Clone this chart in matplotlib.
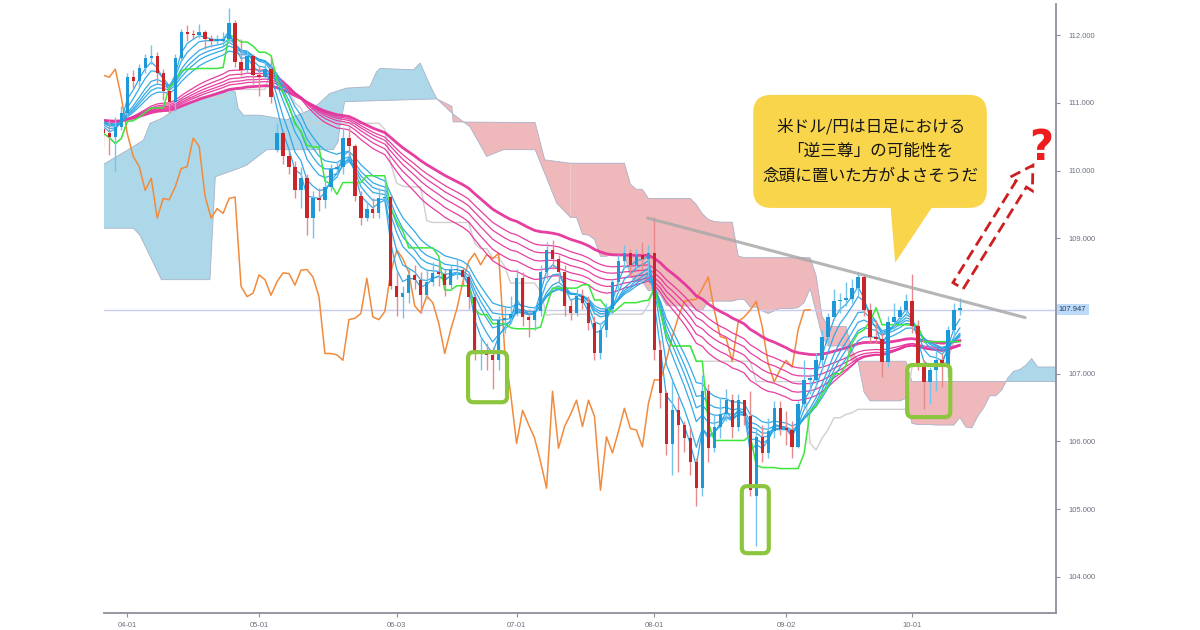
import numpy as np
import pandas as pd
import matplotlib
matplotlib.use("Agg")
import matplotlib.pyplot as plt
from matplotlib.patches import FancyBboxPatch, Polygon
import matplotlib.transforms as mtransforms

plt.rcParams['font.family'] = ['Noto Sans CJK JP', 'DejaVu Sans']

# ---------------- data (USD/JPY daily) ----------------
dates = pd.bdate_range('2019-03-26', '2019-10-11')

opens = [
    110.62, 110.55, 110.50, 110.65, 110.85, 111.38, 111.33, 111.52, 111.66, 111.70,
    111.44, 111.18, 111.02, 111.66, 112.05, 112.02, 112.00, 112.05, 111.95, 111.92,
    111.92, 111.95, 112.18, 111.60, 111.48, 111.70, 111.41, 111.38, 111.50, 110.30,
    110.55, 110.21, 110.06, 109.71, 109.89, 109.30, 109.59, 109.57, 109.76, 110.03,
    110.06, 110.48, 110.36, 109.62, 109.30, 109.44, 109.37, 109.59, 109.61, 108.29,
    108.14, 108.19, 108.46, 108.39, 108.16, 108.36, 108.49, 108.48, 108.31, 108.53,
    108.54, 108.43, 108.14, 107.30, 107.30, 107.28, 107.20, 107.80, 107.82, 107.89,
    108.41, 107.84, 107.80, 107.92, 108.50, 108.83, 108.70, 108.50, 108.00, 107.90,
    108.15, 108.05, 107.75, 107.30, 107.65, 107.95, 108.35, 108.66, 108.78, 108.61,
    108.76, 108.70, 108.78, 107.35, 106.71, 105.97, 106.46, 106.25, 106.05, 105.70,
    105.31, 106.74, 105.90, 106.22, 106.40, 106.61, 106.22, 106.61, 106.37, 105.20,
    106.07, 105.83, 106.15, 106.49, 106.19, 106.17, 105.92, 106.56, 106.91, 106.91,
    107.20, 107.55, 107.84, 108.07, 108.09, 108.10, 108.26, 108.43, 107.94, 107.55,
    107.52, 107.18, 107.77, 107.84, 107.94, 108.07, 107.70, 107.15, 106.88, 107.06,
    107.20, 107.10, 107.65, 107.94]

closes = [
    110.55, 110.50, 110.65, 110.85, 111.38, 111.33, 111.52, 111.66, 111.70, 111.44,
    111.18, 111.02, 111.66, 112.05, 112.02, 112.00, 112.05, 111.95, 111.92, 111.92,
    111.95, 112.18, 111.60, 111.48, 111.70, 111.41, 111.38, 111.50, 111.09, 110.55,
    110.21, 110.06, 109.71, 109.89, 109.30, 109.59, 109.57, 109.76, 110.03, 110.06,
    110.48, 110.36, 109.62, 109.30, 109.44, 109.37, 109.59, 109.61, 108.29, 108.14,
    108.19, 108.46, 108.39, 108.16, 108.36, 108.49, 108.48, 108.31, 108.53, 108.54,
    108.43, 108.14, 107.30, 107.30, 107.28, 107.20, 107.80, 107.82, 107.89, 108.41,
    107.84, 107.80, 107.92, 108.50, 108.83, 108.70, 108.50, 108.00, 107.90, 108.15,
    108.05, 107.75, 107.30, 107.65, 107.95, 108.35, 108.66, 108.78, 108.61, 108.76,
    108.70, 108.78, 107.35, 106.71, 105.97, 106.46, 106.25, 106.05, 105.70, 105.31,
    106.74, 105.90, 106.22, 106.40, 106.61, 106.22, 106.61, 106.37, 105.28, 106.07,
    105.83, 106.15, 106.49, 106.19, 106.17, 105.92, 106.56, 106.91, 106.91, 107.20,
    107.55, 107.84, 108.07, 108.09, 108.10, 108.26, 108.43, 107.94, 107.55, 107.52,
    107.18, 107.77, 107.84, 107.94, 108.07, 107.70, 107.15, 106.88, 107.06, 107.20,
    107.10, 107.65, 107.94, 107.947]

highs = [
    110.75, 110.75, 110.80, 110.95, 111.45, 111.48, 111.58, 111.72, 111.85, 111.75,
    111.50, 111.25, 111.72, 112.10, 112.15, 112.08, 112.17, 112.08, 112.00, 112.00,
    112.05, 112.40, 112.22, 111.95, 111.78, 111.72, 111.55, 111.60, 111.70, 110.70,
    110.60, 110.30, 110.15, 110.05, 109.95, 109.70, 109.75, 109.90, 110.10, 110.15,
    110.65, 110.65, 110.40, 109.70, 109.55, 109.60, 109.75, 109.90, 109.65, 108.50,
    108.30, 108.55, 108.60, 108.50, 108.55, 108.65, 108.65, 108.55, 108.60, 108.70,
    108.58, 108.50, 108.20, 107.55, 107.45, 107.40, 107.85, 108.00, 108.15, 108.55,
    108.50, 107.95, 108.00, 108.60, 108.95, 108.98, 108.75, 108.60, 108.10, 108.25,
    108.25, 108.15, 107.85, 107.75, 108.05, 108.40, 108.75, 108.90, 108.85, 108.85,
    108.95, 108.90, 109.32, 107.50, 106.75, 106.90, 106.65, 106.30, 106.20, 105.75,
    106.98, 106.85, 106.40, 106.65, 106.78, 106.70, 106.70, 106.62, 106.75, 106.20,
    106.25, 106.35, 106.60, 106.60, 106.45, 106.30, 106.60, 107.20, 107.00, 107.30,
    107.65, 107.90, 108.25, 108.20, 108.35, 108.40, 108.50, 108.48, 108.05, 107.80,
    107.60, 107.85, 108.05, 108.00, 108.18, 108.47, 107.80, 107.20, 107.10, 107.35,
    107.30, 107.70, 108.05, 108.12]

lows = [
    110.35, 110.23, 110.00, 110.60, 110.80, 111.22, 111.25, 111.45, 111.58, 111.30,
    111.05, 110.85, 110.88, 111.62, 111.92, 111.95, 111.96, 111.80, 111.83, 111.86,
    111.85, 111.88, 111.53, 111.40, 111.45, 111.28, 111.10, 111.35, 111.00, 110.28,
    110.10, 109.95, 109.60, 109.45, 109.05, 109.00, 109.40, 109.45, 109.70, 109.90,
    109.95, 110.20, 109.55, 109.20, 109.25, 109.30, 109.30, 109.55, 108.25, 107.85,
    107.82, 108.05, 108.25, 107.90, 108.10, 108.30, 108.30, 108.15, 108.25, 108.40,
    108.30, 107.95, 107.20, 107.05, 107.05, 106.78, 107.05, 107.60, 107.75, 107.85,
    107.70, 107.55, 107.65, 107.85, 108.40, 108.55, 108.35, 107.85, 107.80, 107.85,
    107.95, 107.65, 107.20, 107.22, 107.55, 107.90, 108.20, 108.55, 108.45, 108.55,
    108.55, 108.45, 107.20, 106.50, 105.80, 105.50, 105.55, 105.85, 105.50, 105.05,
    105.20, 105.70, 105.85, 106.05, 106.30, 106.05, 106.15, 106.25, 105.20, 104.45,
    105.70, 105.75, 106.05, 106.10, 105.95, 105.75, 105.90, 106.50, 106.70, 106.80,
    107.05, 107.45, 107.80, 107.90, 108.00, 108.05, 108.15, 107.85, 107.45, 107.45,
    106.95, 107.10, 107.65, 107.75, 107.85, 107.60, 107.05, 106.48, 106.55, 106.75,
    106.80, 106.95, 107.55, 107.87]

last_price = 107.947

# Ichimoku cloud before enough history exists in the window
span_a_early_x = [-1.0, 3.6, 6.7, 7.8, 9.7, 12.3, 16.1, 19.5, 20.6, 22.0, 22.5, 23.4,
                  26.2, 30.6, 35.1, 37.8, 40.6, 44.5, 45.6, 46.2, 51.8, 52.9, 54.5,
                  55.7, 58.2, 61.2, 64.0, 66.8, 72.1, 75.7, 78.0]
span_a_early = [110.04, 110.28, 110.45, 110.70, 110.77, 110.92, 111.04, 111.17, 111.20,
                111.17, 110.92, 110.82, 110.82, 110.75, 110.92, 111.14, 111.22, 111.24,
                111.46, 111.51, 111.49, 111.59, 111.27, 111.06, 110.85, 110.65, 110.21,
                110.31, 110.31, 109.52, 109.31]
span_b_early_x = [-1.0, 5.0, 6.1, 9.7, 17.8, 18.7, 22.8, 23.9, 27.3, 38.4, 39.2, 39.5,
                  40.3, 55.7, 58.2, 58.4, 72.1, 73.7, 78.0]
span_b_early = [109.15, 109.15, 109.05, 108.39, 108.39, 109.91, 110.04, 110.08, 110.31,
                110.31, 110.43, 110.65, 111.02, 111.06, 110.95, 110.72, 110.71, 110.16,
                110.11]
cloud_cross_x = 55.7

tick_labels = ['04-01', '05-01', '06-03', '07-01', '08-01', '09-02', '10-01']
y_ticks = [104, 105, 106, 107, 108, 109, 110, 111, 112]

short_spans = [3, 5, 8, 10, 12, 15]
long_spans = [30, 35, 40, 45, 50, 60]
ema_seed = 110.75

bubble_lines = ['米ドル/円は日足における', '「逆三尊」の可能性を', '念頭に置いた方がよさそうだ']

# ---------------- colours ----------------
C_UP, C_UP_WICK = '#1f98d8', '#74c3ec'
C_DN, C_DN_WICK = '#c9262c', '#e8898e'
C_SHORT = '#2aa5e6'
C_LONG = '#e6339c'
C_TENKAN = '#3ce63c'
C_KIJUN = '#cfcfcf'
C_CHIKOU = '#f28a3c'
C_CLOUD_UP = '#acd8e9'
C_CLOUD_DN = '#efb8ba'
C_EDGE = '#a9b2c8'
C_AXIS = '#8c909c'
C_TICK = '#6c7282'

# ---------------- figure ----------------
fig = plt.figure(figsize=(12, 6.3), dpi=100)
fig.patch.set_facecolor('white')
ax = fig.add_axes([104 / 1200, (630 - 612.7) / 630, (1056 - 104) / 1200, (612.7 - 4) / 630])
ax.set_xlim(0.117, 159.05)
ax.set_ylim(103.471, 112.462)

n = len(closes)
x = np.arange(n)
o = np.array(opens); c = np.array(closes); h = np.array(highs); l = np.array(lows)

H = pd.Series(h); L = pd.Series(l)
tenkan = (H.rolling(9, min_periods=1).max() + L.rolling(9, min_periods=1).min()) / 2
kijun = (H.rolling(26, min_periods=1).max() + L.rolling(26, min_periods=1).min()) / 2
span_b_base = (H.rolling(52, min_periods=1).max() + L.rolling(52, min_periods=1).min()) / 2
span_a_base = (tenkan + kijun) / 2

# ---- cloud: early part (read) ----
ea_x = np.array(span_a_early_x); ea = np.array(span_a_early)
eb_x = np.array(span_b_early_x); eb = np.array(span_b_early)
ma = ea_x <= cloud_cross_x; mb = eb_x <= cloud_cross_x
blue_poly = list(zip(ea_x[ma], ea[ma])) + list(zip(eb_x[mb][::-1], eb[mb][::-1]))
ax.add_patch(Polygon(blue_poly, closed=True, facecolor=C_CLOUD_UP, edgecolor='none', zorder=1))
ma2 = ea_x >= cloud_cross_x; mb2 = eb_x >= cloud_cross_x
red_poly = list(zip(eb_x[mb2], eb[mb2])) + list(zip(ea_x[ma2][::-1], ea[ma2][::-1]))
ax.add_patch(Polygon(red_poly, closed=True, facecolor=C_CLOUD_DN, edgecolor='none', zorder=1))
ax.plot(ea_x, ea, color=C_EDGE, lw=0.6, zorder=1.1)
ax.plot(eb_x, eb, color=C_EDGE, lw=0.6, zorder=1.1)

# ---- cloud: computed part (spans shifted 26 ahead) ----
late_x = np.arange(78, 160)
late_a = span_a_base.values[late_x - 26]
late_b = span_b_base.values[late_x - 26]
ax.fill_between(late_x, late_a, late_b, where=late_a >= late_b, interpolate=True,
                color=C_CLOUD_UP, lw=0, zorder=1)
ax.fill_between(late_x, late_a, late_b, where=late_a < late_b, interpolate=True,
                color=C_CLOUD_DN, lw=0, zorder=1)
ax.plot(late_x, late_a, color=C_EDGE, lw=0.6, zorder=1.1)
ax.plot(late_x, late_b, color=C_EDGE, lw=0.6, zorder=1.1)

# ---- kijun, chikou ----
ax.plot(x, kijun.values, color=C_KIJUN, lw=1.0, zorder=2)
ax.plot(x - 25, c, color=C_CHIKOU, lw=1.1, zorder=2.2)

# current price line
ax.axhline(last_price, color='#c9ccf0', lw=1.0, zorder=2.1)

# ---- GMMA ----
def ema(values, span, seed):
    a = 2.0 / (span + 1)
    out, e = [], seed
    for v in values:
        e = e + a * (v - e)
        out.append(e)
    return np.array(out)

for sp in long_spans:
    lw = 2.0 if sp == long_spans[-1] else 0.9
    ax.plot(x, ema(c, sp, ema_seed), color=C_LONG, lw=lw, alpha=0.95, zorder=3)
for sp in short_spans:
    ax.plot(x, ema(c, sp, ema_seed), color=C_SHORT, lw=0.9, alpha=0.95, zorder=3.2)

ax.plot(x, tenkan.values, color=C_TENKAN, lw=1.1, zorder=3.3)

# ---- candles ----
up = c >= o
body_lo = np.minimum(o, c)
body_h = np.maximum(np.abs(c - o), 0.025)
ax.vlines(x[up], l[up], h[up], color=C_UP_WICK, lw=1.0, zorder=4)
ax.vlines(x[~up], l[~up], h[~up], color=C_DN_WICK, lw=1.0, zorder=4)
ax.bar(x[up], body_h[up], bottom=body_lo[up], width=0.55, color=C_UP, lw=0, zorder=4.2)
ax.bar(x[~up], body_h[~up], bottom=body_lo[~up], width=0.55, color=C_DN, lw=0, zorder=4.2)

# ---- axes styling ----
for s in ['left', 'top']:
    ax.spines[s].set_visible(False)
for s in ['bottom', 'right']:
    ax.spines[s].set_color(C_AXIS)
    ax.spines[s].set_linewidth(1.3)
ax.yaxis.tick_right()
ax.set_yticks(y_ticks)
# the 108.000 label is covered by the current-price tag in the reference
ax.set_yticklabels(['' if v == 108 else f'{v:.3f}' for v in y_ticks])
tick_pos = [list(dates.strftime('%m-%d')).index(t) for t in tick_labels]
ax.set_xticks(tick_pos)
ax.set_xticklabels(tick_labels)
ax.tick_params(axis='y', colors=C_AXIS, labelcolor=C_TICK, labelsize=5.5, length=3, pad=6)
ax.tick_params(axis='x', colors=C_AXIS, labelcolor=C_TICK, labelsize=5.5, length=3, pad=4)
for lab in ax.get_xticklabels() + ax.get_yticklabels():
    lab.set_family('Liberation Sans')

# price label at right
trans = mtransforms.blended_transform_factory(ax.transAxes, ax.transData)
ax.text(1.003, last_price, f'{last_price:.3f}', transform=trans, ha='left', va='center',
        fontsize=5.5, color='#2f3d5c', family='Liberation Sans', zorder=10, clip_on=False,
        bbox=dict(boxstyle='square,pad=0.3', facecolor='#bcdbfa', edgecolor='none'))

# ---------------- annotations ----------------
px_x = 952 / (159.05 - 0.117)
px_y = 608.7 / (112.462 - 103.471)
aspect = px_x / px_y

# trend line
ax.plot([90.9, 153.9], [109.30, 107.83], color='#a9a9a9', lw=2.2, alpha=0.85,
        solid_capstyle='round', zorder=6)

# green boxes
for (x0, y0, x1, y1) in [(60.9, 106.58, 67.4, 107.32), (106.6, 104.35, 111.1, 105.34),
                         (134.2, 106.36, 141.4, 107.13)]:
    ax.add_patch(FancyBboxPatch((x0, y0), x1 - x0, y1 - y0,
                                boxstyle='round,pad=0,rounding_size=0.9',
                                mutation_aspect=aspect, facecolor='none',
                                edgecolor='#8cc63f', lw=3.0, zorder=7))

# speech bubble
bub_col = '#f8d54b'
ax.add_patch(FancyBboxPatch((108.5, 109.45), 39.0, 1.67,
                            boxstyle='round,pad=0,rounding_size=3.0',
                            mutation_aspect=aspect, facecolor=bub_col, edgecolor='none',
                            zorder=8))
ax.add_patch(Polygon([(131.3, 109.6), (139.4, 109.6), (132.2, 108.64)], closed=True,
                     facecolor=bub_col, edgecolor='none', zorder=8))
for yv, txt in zip([110.65, 110.28, 109.91], bubble_lines):
    ax.text(128.1, yv, txt, ha='center', va='center', fontsize=12, color='#151515',
            zorder=9)

# question mark
ax.text(156.6, 110.33, '?', ha='center', va='center', fontsize=30, fontweight='bold',
        color='#ee1c1c', family='DejaVu Sans', zorder=9)

# dashed hollow arrow
tail = np.array([142.7 * px_x, 108.30 * px_y])
tip = np.array([155.2 * px_x, 110.08 * px_y])
d = tip - tail
Ld = np.hypot(*d)
u = d / Ld
nv = np.array([u[1], -u[0]])
sw, hw, hl = 6.0, 13.0, 22.0
neck = tail + u * (Ld - hl)
pts = [tail + nv * sw, neck + nv * sw, neck + nv * hw, tip, neck - nv * hw, neck - nv * sw,
       tail - nv * sw]
pts = [(p[0] / px_x, p[1] / px_y) for p in pts]
ax.add_patch(Polygon(pts, closed=True, facecolor='none', edgecolor='#cc1f1f', lw=2.0,
                     linestyle=(0, (4, 2)), zorder=9, joinstyle='miter'))

fig.savefig('out.png', dpi=100, facecolor='white')
